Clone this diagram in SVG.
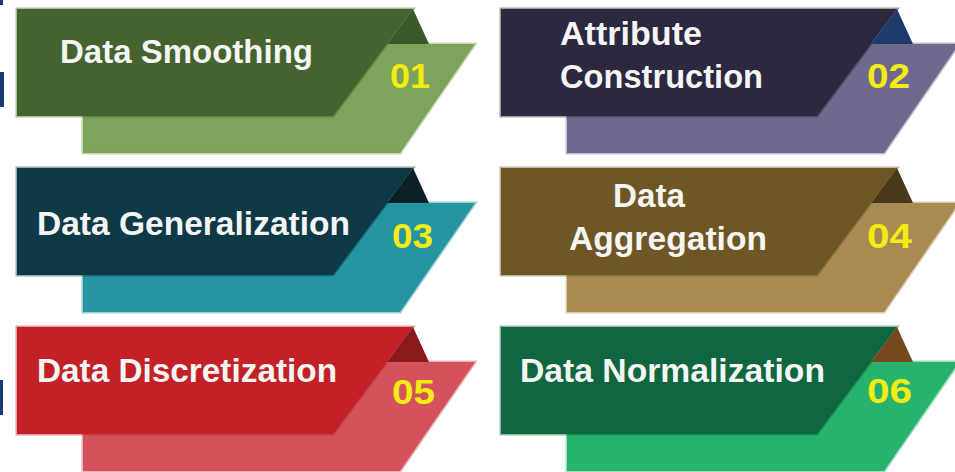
<svg xmlns="http://www.w3.org/2000/svg" width="955" height="472" viewBox="0 0 955 472">
  <style>
    .label { font-family: "Liberation Sans", Arial, sans-serif; font-weight: bold; font-size: 33px; fill: #f5f5f5; }
    .num { font-family: "Liberation Sans", Arial, sans-serif; font-weight: bold; font-size: 35px; fill: #f3ec12; }
    .edge { stroke-width: 3; stroke-opacity: 0.45; stroke-linejoin: miter; }
    .mark { fill: #17397a; }
  </style>
  <defs>
    <!-- one card: back tab, front panel, folded corner -->
    <polygon id="back" points="83,44 475,44 400,153 83,153"/>
    <polygon id="front" points="17,9 413,9 333,116 17,116"/>
    <polygon id="fold" points="413,9 429,44 387,44"/>
  </defs>
  <rect width="955" height="472" fill="#ffffff"/>

  <!-- slivers of navy lettering at the left border -->
  <rect class="mark" x="0" y="0" width="3" height="5"/>
  <rect class="mark" x="0" y="72" width="4" height="35"/>
  <rect class="mark" x="0" y="380" width="3" height="35"/>

  <g id="card-01">
    <use href="#back" fill="#7ea35b" stroke="#7ea35b" class="edge"/>
    <use href="#front" fill="#44632f" stroke="#44632f" class="edge"/>
    <use href="#fold" fill="#3c5a29"/>
    <text class="label" x="60" y="63" textLength="253" lengthAdjust="spacingAndGlyphs">Data Smoothing</text>
    <text class="num" x="390" y="88" textLength="40" lengthAdjust="spacingAndGlyphs">01</text>
  </g>

  <g id="card-02">
    <g transform="translate(484,0)">
      <use href="#back" fill="#6f698d" stroke="#6f698d" class="edge"/>
      <use href="#front" fill="#2c283f" stroke="#2c283f" class="edge"/>
      <use href="#fold" fill="#1f3b6c"/>
    </g>
    <text class="label" x="560" y="45" textLength="142" lengthAdjust="spacingAndGlyphs">Attribute</text>
    <text class="label" x="560" y="88" textLength="203" lengthAdjust="spacingAndGlyphs">Construction</text>
    <text class="num" x="867" y="88" textLength="43" lengthAdjust="spacingAndGlyphs">02</text>
  </g>

  <g id="card-03">
    <g transform="translate(0,159)">
      <use href="#back" fill="#2595a2" stroke="#2595a2" class="edge"/>
      <use href="#front" fill="#0e3946" stroke="#0e3946" class="edge"/>
      <use href="#fold" fill="#0a2127"/>
    </g>
    <text class="label" x="37" y="235" textLength="313" lengthAdjust="spacingAndGlyphs">Data Generalization</text>
    <text class="num" x="392" y="248" textLength="41" lengthAdjust="spacingAndGlyphs">03</text>
  </g>

  <g id="card-04">
    <g transform="translate(484,159)">
      <use href="#back" fill="#a88a52" stroke="#a88a52" class="edge"/>
      <use href="#front" fill="#6e5625" stroke="#6e5625" class="edge"/>
      <use href="#fold" fill="#4a3919"/>
    </g>
    <text class="label" x="613" y="207" textLength="72" lengthAdjust="spacingAndGlyphs">Data</text>
    <text class="label" x="569" y="250" textLength="198" lengthAdjust="spacingAndGlyphs">Aggregation</text>
    <text class="num" x="867" y="248" textLength="45" lengthAdjust="spacingAndGlyphs">04</text>
  </g>

  <g id="card-05">
    <g transform="translate(0,318)">
      <use href="#back" fill="#d4525c" stroke="#d4525c" class="edge"/>
      <use href="#front" fill="#c32028" stroke="#c32028" class="edge"/>
      <use href="#fold" fill="#8a181d"/>
    </g>
    <text class="label" x="37" y="382" textLength="300" lengthAdjust="spacingAndGlyphs">Data Discretization</text>
    <text class="num" x="392" y="404" textLength="43" lengthAdjust="spacingAndGlyphs">05</text>
  </g>

  <g id="card-06">
    <g transform="translate(484,318)">
      <use href="#back" fill="#27b36d" stroke="#27b36d" class="edge"/>
      <use href="#front" fill="#10663e" stroke="#10663e" class="edge"/>
      <use href="#fold" fill="#77481d"/>
    </g>
    <text class="label" x="520" y="382" textLength="305" lengthAdjust="spacingAndGlyphs">Data Normalization</text>
    <text class="num" x="867" y="403" textLength="45" lengthAdjust="spacingAndGlyphs">06</text>
  </g>
</svg>
